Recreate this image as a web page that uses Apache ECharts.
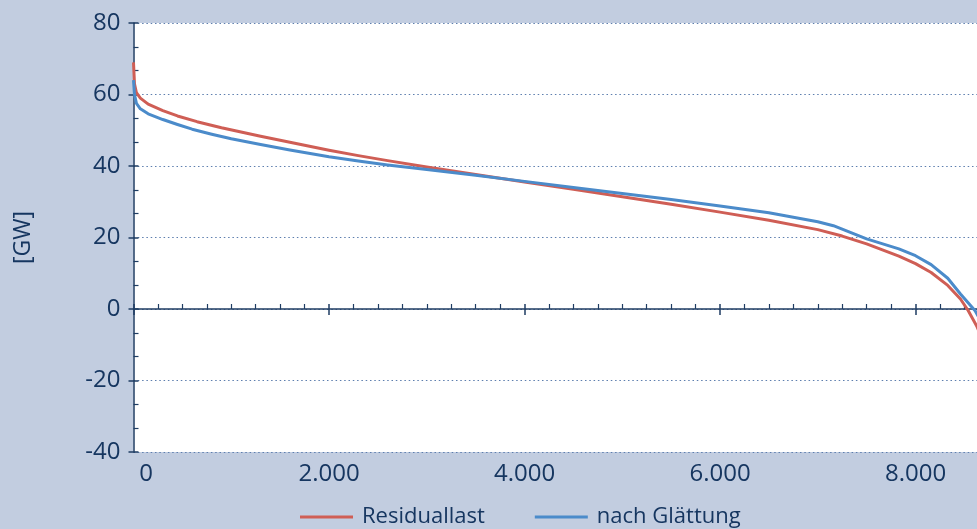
<!DOCTYPE html>
<html><head><meta charset="utf-8">
<script src="https://cdn.jsdelivr.net/npm/echarts@6/dist/echarts.min.js"></script>
<style>html,body{margin:0;padding:0;background:#c2cde0;}#c{width:977px;height:529px;}</style>
</head><body><div id="c"></div>
<script>
// Hours of year (sorted duration curve) and load values [GW]
const residualHours = [0, 10, 30, 70, 150, 300, 450, 650, 900, 1100, 1300, 1500, 1750, 2000, 2300, 2600, 3000, 3500, 4000, 4500, 5000, 5500, 6000, 6500, 7000, 7250, 7500, 7830, 8000, 8160, 8330, 8460, 8540, 8630, 8700, 8760];
const residualValues = [69, 63, 60.5, 59, 57.3, 55.5, 54, 52.4, 50.7, 49.5, 48.3, 47.2, 45.8, 44.4, 42.9, 41.5, 39.7, 37.6, 35.5, 33.5, 31.4, 29.3, 27.1, 24.8, 22.2, 20.4, 18.2, 14.8, 12.7, 10.2, 6.6, 2.8, -0.5, -5, -9.5, -14];
const smoothHours = [0, 10, 30, 70, 150, 300, 450, 600, 800, 1000, 1300, 1600, 2000, 2300, 2600, 3000, 3500, 4000, 4500, 5000, 5500, 6000, 6500, 7000, 7160, 7500, 7830, 8000, 8160, 8330, 8460, 8610, 8700, 8760];
const smoothValues = [64, 60, 57.5, 56, 54.6, 53, 51.6, 50.3, 48.9, 47.6, 46, 44.5, 42.6, 41.4, 40.3, 39, 37.4, 35.7, 34, 32.3, 30.6, 28.8, 26.9, 24.4, 23.3, 19.6, 16.8, 14.9, 12.4, 8.6, 4.2, -0.5, -5, -9];
const seriesNames = ['Residuallast', 'nach Glättung'];
const yTicks = [-40, -20, 0, 20, 40, 60, 80];
const xTickStep = 2000;

const TXT = '#163660';
const AX = '#1f3d63';
const FONT = '"Open Sans", "Noto Sans", sans-serif';
const pairs = (xs, ys) => xs.map((x, i) => [x, ys[i]]);
const fmtX = v => v === 0 ? '{z|0}' : (v % 2000 === 0 && v <= 8000 ? String(v / 1000) + '.000' : '');

const chart = echarts.init(document.getElementById('c'));
chart.setOption({
  backgroundColor: '#c2cde0',
  animation: false,
  textStyle: { fontFamily: FONT },
  grid: { left: 133.5, top: 23, width: 879.75, height: 429, show: true, backgroundColor: '#ffffff', borderWidth: 0,
    containLabel: false, outerBoundsMode: 'none' },
  legend: {
    left: 295, top: 501, itemWidth: 53, itemHeight: 3, itemGap: 50, icon: 'rect',
    textStyle: { color: TXT, fontSize: 22, fontFamily: FONT, padding: [0, 0, 0, 4] },
    data: seriesNames
  },
  xAxis: [{
    type: 'value', min: 0, max: 9000, interval: xTickStep,
    axisLine: { show: true, onZero: true, onZeroAxisIndex: 0, lineStyle: { color: AX, width: 1.5 } },
    axisTick: { show: true, inside: false, length: 6, lineStyle: { color: AX, width: 1.5 } },
    axisLabel: { show: true, margin: 10, color: TXT, fontSize: 24, fontFamily: FONT, showMaxLabel: false,
      formatter: fmtX, rich: { z: { fontSize: 24, color: TXT, fontFamily: FONT, padding: [0, 0, 0, 25] } } },
    splitLine: { show: false }
  }, {
    type: 'value', min: 0, max: 9000, interval: xTickStep, position: 'bottom',
    axisLine: { show: false, onZero: true, onZeroAxisIndex: 0 },
    axisTick: { show: true, inside: true, length: 5, lineStyle: { color: AX, width: 1.5 } },
    minorTick: { show: true, splitNumber: 8, length: 5, lineStyle: { color: AX, width: 1.2 } },
    axisLabel: { show: false }, splitLine: { show: false }
  }],
  yAxis: [{
    type: 'value', min: yTicks[0], max: yTicks[yTicks.length - 1], interval: 20, position: 'left',
    name: '[GW]', nameLocation: 'middle', nameGap: 99, nameRotate: 90,
    nameTextStyle: { color: TXT, fontSize: 23, fontFamily: FONT },
    axisLine: { show: true, onZero: false, lineStyle: { color: AX, width: 1.5 } },
    axisTick: { show: true, inside: false, length: 5, lineStyle: { color: AX, width: 1.5 } },
    axisLabel: { margin: 13, color: TXT, fontSize: 24, fontFamily: FONT },
    splitLine: { show: true, lineStyle: { color: '#5d7eae', width: 1.2, type: [1.5, 2.8] } }
  }, {
    type: 'value', min: yTicks[0], max: yTicks[yTicks.length - 1], interval: 20, position: 'left',
    axisLine: { show: false, onZero: false },
    axisTick: { show: true, inside: true, length: 5, lineStyle: { color: AX, width: 1.5 } },
    minorTick: { show: true, splitNumber: 3, length: 5, lineStyle: { color: AX, width: 1.2 } },
    axisLabel: { show: false }, splitLine: { show: false }
  }],
  series: [{
    name: seriesNames[0], type: 'line', xAxisIndex: 0, yAxisIndex: 0,
    data: pairs(residualHours, residualValues), showSymbol: false, symbol: 'none',
    smooth: false,
    color: '#cf5e55', lineStyle: { width: 3, color: '#cf5e55', join: 'round' }
  }, {
    name: seriesNames[1], type: 'line', xAxisIndex: 0, yAxisIndex: 0,
    data: pairs(smoothHours, smoothValues), showSymbol: false, symbol: 'none',
    smooth: false,
    color: '#4b8bca', lineStyle: { width: 3, color: '#4b8bca', join: 'round' }
  }]
});
</script></body></html>
